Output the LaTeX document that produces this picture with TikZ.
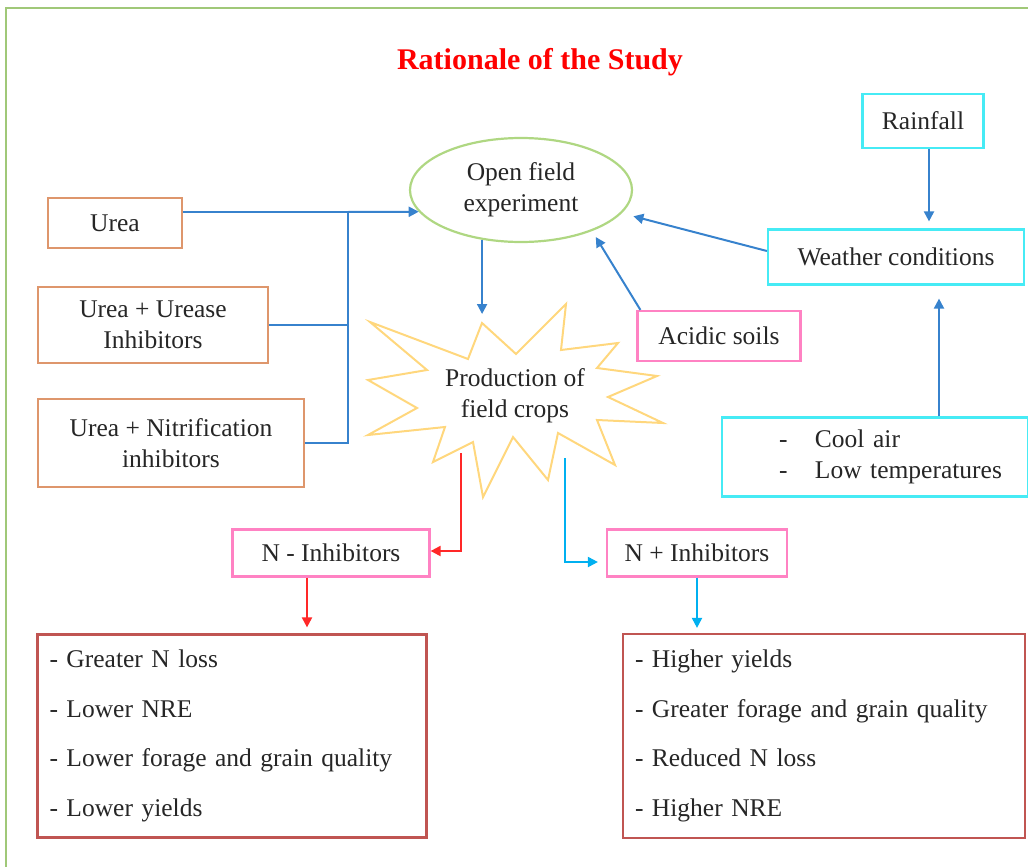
\documentclass[tikz,border=0pt]{standalone}
\usepackage{fontspec}
\setmainfont{Liberation Serif}
\usetikzlibrary{shapes.geometric,arrows.meta}
\definecolor{framegreen}{RGB}{160,200,120}
\definecolor{ovalgreen}{RGB}{175,215,130}
\definecolor{ureaorange}{RGB}{222,150,108}
\definecolor{softpink}{RGB}{255,130,195}
\definecolor{skycyan}{RGB}{70,235,245}
\definecolor{burstyellow}{RGB}{255,215,125}
\definecolor{linkblue}{RGB}{55,130,205}
\definecolor{nred}{RGB}{255,40,40}
\definecolor{ncyan}{RGB}{0,176,240}
\definecolor{resred}{RGB}{192,85,82}
\begin{document}
\begin{tikzpicture}[x=1pt, y=-1pt,
	every node/.style={font=\fontsize{25.5}{31}\selectfont, text=black!85, align=center, line width=2.2pt, inner sep=0pt},
	ureabox/.style={draw=ureaorange, rectangle},
	pinkbox/.style={draw=softpink, rectangle},
	cyanbox/.style={draw=skycyan, rectangle},
	resbox/.style={draw=resred, rectangle, align=left, inner xsep=12pt, font=\fontsize{25.5}{49.7}\selectfont},
	link/.style={draw=linkblue, line width=2pt},
	bluearr/.style={link, -{Triangle[length=10pt,width=10pt]}},
	redarr/.style={draw=nred, line width=2pt, -{Triangle[length=10pt,width=10pt]}},
	cyanarr/.style={draw=ncyan, line width=2pt, -{Triangle[length=10pt,width=10pt]}}]
	\useasboundingbox (0,0) rectangle (1028,867);
	\draw[framegreen, line width=2.5pt] (6,867) -- (6,8) -- (1028,8);
	\node[text=red, font=\bfseries\fontsize{30}{34}\selectfont] (title) at (540,62) {Rationale of the Study};
	\node[ellipse, draw=ovalgreen, minimum width=222, minimum height=104] (open) at (521,190) {Open field\\experiment};
	\node[cyanbox, minimum width=121, minimum height=54] (rain)    at (923,121) {Rainfall};
	\node[cyanbox, minimum width=256, minimum height=55] (weather) at (896,257) {Weather conditions};
	\node[cyanbox, minimum width=306, minimum height=79, text width=282pt, inner xsep=12pt, align=left] (cool) at (875,457)
		{\hspace*{45pt}\makebox[36pt][l]{-}Cool air\\\hspace*{45pt}\makebox[36pt][l]{-}Low temperatures};
	\node[pinkbox, minimum width=163, minimum height=50] (acid)    at (719,336) {Acidic soils};
	\node[ureabox, minimum width=134, minimum height=50] (urea)    at (115,223) {Urea};
	\node[ureabox, minimum width=230, minimum height=76] (urease)  at (153,325) {Urea + Urease\\Inhibitors};
	\node[ureabox, minimum width=266, minimum height=88] (nitrif)  at (171,443) {Urea + Nitrification\\inhibitors};
	\draw[burstyellow, line width=2pt, line join=miter]
		(370,322) -- (468,359) -- (482,323) -- (516,354) -- (566,304) -- (561,350) -- (618,343) -- (597,368)
		-- (657,376) -- (608,397) -- (663,423) -- (597,420) -- (615,465) -- (558,433) -- (548,480) -- (513,437)
		-- (483,497) -- (473,442) -- (433,462) -- (445,427) -- (368,435) -- (417,408) -- (368,380) -- (427,370) -- cycle;
	\node (prod) at (515,396) {Production of\\field crops};
	\node[pinkbox, minimum width=197, minimum height=47] (nminus) at (331,553) {N - Inhibitors};
	\node[pinkbox, minimum width=180, minimum height=47] (nplus)  at (697,553) {N + Inhibitors};
	\node[resbox, minimum width=389, minimum height=203, text width=365pt] (lossres) at (232,736)
		{- Greater N loss\\- Lower NRE\\- Lower forage and grain quality\\- Lower yields};
	\node[resbox, minimum width=402, minimum height=204, text width=378pt] (gainres) at (824,736)
		{- Higher yields\\- Greater forage and grain quality\\- Reduced N loss\\- Higher NRE};
	\coordinate (join)    at (348,212);
	\coordinate (prodtop) at (483,314);
	\coordinate (redout)  at (461,453);
	\coordinate (cyanout) at (565,458);
	\draw[link] (urea.east |- join) -- (join);
	\draw[bluearr] (join) -- (open.192);
	\draw[link] (urease.east) -- (urease.east -| join);
	\draw[link] (nitrif.east) -- (nitrif.east -| join) -- (join);
	\draw[bluearr] (open.232) -- (open.232 |- prodtop);
	\draw[bluearr, shorten >=7pt] ([xshift=4pt]acid.north west) -- (open.-30);
	\draw[bluearr, shorten >=12pt] ([yshift=6pt]weather.west) -- (open.-13);
	\draw[bluearr, shorten >=7pt] ([xshift=6pt]rain.south) -- ([xshift=6pt]rain.south |- weather.north);
	\draw[bluearr, shorten >=13pt] ([xshift=64pt]cool.north) -- ([xshift=64pt]cool.north |- weather.south);
	\draw[redarr] (redout) |- ([yshift=2pt]nminus.east);
	\draw[redarr, shorten >=6pt] ([xshift=-24pt]nminus.south) -- ([xshift=-24pt]nminus.south |- lossres.north);
	\draw[cyanarr, shorten >=8pt] (cyanout) |- ([yshift=-9pt]nplus.west);
	\draw[cyanarr, shorten >=5pt] (nplus.south) -- (nplus.south |- gainres.north);
\end{tikzpicture}
\end{document}
